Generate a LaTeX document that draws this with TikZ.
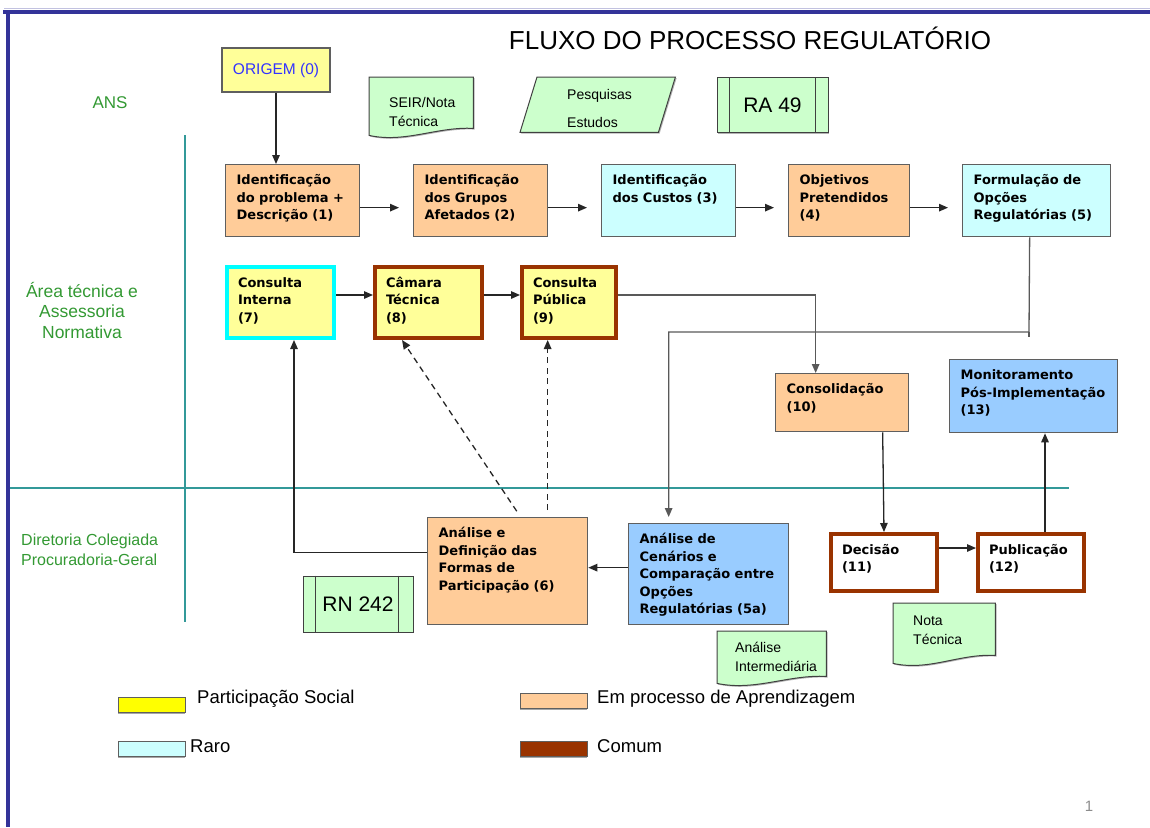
\documentclass[tikz,border=0pt]{standalone}
\usepackage{fontspec}
\setmainfont{Liberation Sans}
\newfontfamily\boxfont{DejaVu Sans}
\usepackage{tikz}
\usetikzlibrary{arrows.meta, backgrounds, shadows}
\definecolor{rgOrange}{RGB}{255,204,153}
\definecolor{rgCyan}{RGB}{204,255,255}
\definecolor{rgSky}{RGB}{153,204,255}
\definecolor{rgPale}{RGB}{255,255,153}
\definecolor{rgYellow}{RGB}{255,255,0}
\definecolor{rgMint}{RGB}{204,255,204}
\definecolor{rgBrown}{RGB}{153,51,0}
\definecolor{rgAqua}{RGB}{0,255,255}
\definecolor{rgTeal}{RGB}{51,153,153}
\definecolor{rgLabel}{RGB}{51,153,51}
\definecolor{rgFrame}{RGB}{51,51,153}
\definecolor{rgEdge}{RGB}{95,95,95}
\definecolor{rgInk}{RGB}{51,51,255}

\begin{document}
\begin{tikzpicture}[
    x=1pt, y=-1pt, >=Latex,
    stage/.style 2 args={draw=rgEdge, line width=1.3pt, anchor=north west,
                inner xsep=11pt, inner ysep=0pt, align=left,
                text width={#1pt-22pt}, text height=20pt, text depth={#2pt-20pt},
                font=\boxfont\bfseries\fontsize{13}{17.5}\selectfont},
    learn/.style={fill=rgOrange},
    rare/.style={fill=rgCyan},
    sky/.style={fill=rgSky},
    social/.style={fill=rgPale},
    ringaqua/.style={draw=rgAqua, line width=4pt},
    ringbrown/.style={draw=rgBrown, line width=4pt},
    doc/.style n args={4}{anchor=north west, inner xsep=#3pt, inner ysep=0pt,
                align=left, text width={#1pt-2*#3pt}, text height=#4pt,
                text depth={#2pt-#4pt}, font=\fontsize{14}{19}\selectfont},
    docline/.style={draw=black!75, fill=rgMint, line width=1pt,
                drop shadow={shadow xshift=1.2pt, shadow yshift=-1.2pt, opacity=.6}},
    procnode/.style={draw=black!75, fill=rgMint, line width=1pt, inner sep=0pt,
                font=\fontsize{21}{24}\selectfont,
                drop shadow={shadow xshift=1.2pt, shadow yshift=-1.2pt, opacity=.6}},
    procline/.style={draw=black!75, line width=1pt},
    origbox/.style={draw=rgEdge, fill=rgPale, line width=1.3pt, text=rgInk,
                minimum width=108pt, minimum height=44pt,
                font=\fontsize{15.5}{18}\selectfont},
    arr/.style={-{Triangle[length=9pt,width=7.5pt]}, line width=1.3pt, draw=black!85},
    faintarr/.style={arr, draw=black!65},
    dasharr/.style={arr, dash pattern=on 6pt off 4.5pt},
    lane/.style={draw=rgTeal, line width=2.4pt},
    rimline/.style={draw=rgFrame, line width=4.5pt},
    lanelabel/.style={text=rgLabel, align=center, inner sep=0pt},
    legbox/.style={draw=rgEdge, line width=1pt, inner sep=0pt,
                minimum width=67pt, minimum height=15pt,
                drop shadow={shadow xshift=0pt, shadow yshift=-1.5pt, opacity=.7}},
    legtext/.style={anchor=west, inner sep=0pt, font=\fontsize{18.5}{22}\selectfont}
]
\useasboundingbox (0,0) rectangle (1150,827);

% Slide frame and lane dividers
\draw[draw=rgFrame!30, line width=1pt] (4,8) -- (1150,8);
\draw[rimline] (3,12) -- (1150,12);
\draw[rimline] (8,12) -- (8,827);
\draw[lane] (10,488) -- (1069,488);
\draw[lane] (185,135) -- (185,622);

% Title and lane labels
\node[font=\fontsize{26}{30}\selectfont] (title) at (750,38) {FLUXO DO PROCESSO REGULATÓRIO};
\node[lanelabel, font=\fontsize{17}{20}\selectfont] (lbans) at (110,103) {ANS};
\node[lanelabel, font=\fontsize{17.5}{20.5}\selectfont] (lbarea) at (82,310)
    {Área técnica e\\Assessoria\\Normativa};
\node[lanelabel, align=left, anchor=west, font=\fontsize{16}{20}\selectfont] (lbdir) at (21,550)
    {Diretoria Colegiada\\Procuradoria-Geral};

% Origin and supporting documents
\node[origbox] (orig) at (276,70) {ORIGEM (0)};
\node[doc={104}{51}{20}{30}] (seir) at (369,77) {SEIR/Nota\\Técnica};
\node[doc={155}{55}{47}{22}, font=\fontsize{14}{28}\selectfont] (pesq) at (520,77)
    {Pesquisas\\Estudos};
\node[procnode, minimum width=111pt, minimum height=55pt] (ra49) at (772.5,105) {RA 49};
\node[procnode, minimum width=110pt, minimum height=56pt] (rn242) at (358,604) {RN 242};
\node[doc={109}{45}{18}{21}] (inter) at (717,631) {Análise\\Intermediária};
\node[doc={102}{52}{20}{22}] (nota) at (893,603) {Nota\\Técnica};

\draw[procline] ([xshift=13pt]ra49.north west) -- ([xshift=13pt]ra49.south west);
\draw[procline] ([xshift=-13pt]ra49.north east) -- ([xshift=-13pt]ra49.south east);
\draw[procline] ([xshift=13pt]rn242.north west) -- ([xshift=13pt]rn242.south west);
\draw[procline] ([xshift=-15pt]rn242.north east) -- ([xshift=-15pt]rn242.south east);

\begin{scope}[on background layer]
\draw[docline] (seir.north west) -- (seir.north east) -- (seir.south east)
    .. controls +(-36,-2) and +(36,8) .. ([yshift=-7pt]seir.south west) -- cycle;
\draw[docline] (inter.north west) -- (inter.north east) -- (inter.south east)
    .. controls +(-38,-2) and +(38,8) .. ([yshift=-7pt]inter.south west) -- cycle;
\draw[docline] (nota.north west) -- (nota.north east) -- (nota.south east)
    .. controls +(-36,-2) and +(36,8) .. ([yshift=-8pt]nota.south west) -- cycle;
\draw[docline] ([xshift=17pt]pesq.north west) -- (pesq.north east)
    -- ([xshift=-17pt]pesq.south east) -- (pesq.south west) -- cycle;
\end{scope}

% First row: problem to regulatory options
\node[stage={134}{72}, learn] (n1) at (225,164) {Identificação\\do problema +\\Descrição (1)};
\node[stage={134}{72}, learn] (n2) at (413,164) {Identificação\\dos Grupos\\Afetados (2)};
\node[stage={134}{72}, rare] (n3) at (601,164) {Identificação\\dos Custos (3)};
\node[stage={121}{72}, learn] (n4) at (788,164) {Objetivos\\Pretendidos\\(4)};
\node[stage={148}{72}, rare] (n5) at (962,164) {Formulação de\\Opções\\Regulatórias (5)};

% Second row: consultations, consolidation, monitoring
\node[stage={107}{71}, social, ringaqua] (n7) at (225,265) {Consulta\\Interna\\(7)};
\node[stage={107}{71}, social, ringbrown] (n8) at (373,265) {Câmara\\Técnica\\(8)};
\node[stage={94}{71}, social, ringbrown] (n9) at (520,265) {Consulta\\Pública\\(9)};
\node[stage={133}{58}, learn] (n10) at (775,373) {Consolidação\\(10)};
\node[stage={168}{73}, sky] (n13) at (949,359) {Monitoramento\\\mbox{Pós-Implementação}\\(13)};

% Board lane: analysis, decision, publication
\node[stage={160}{107}, learn] (n6) at (427,517)
    {Análise e\\Definição das\\Formas de\\Participação (6)};
\node[stage={160}{101}, sky] (n5a) at (628,523)
    {Análise de\\Cenários e\\\mbox{Comparação entre}\\Opções\\Regulatórias (5a)};
\node[stage={106}{57}, fill=white, ringbrown] (n11) at (829,532) {Decisão\\(11)};
\node[stage={106}{57}, fill=white, ringbrown] (n12) at (976,532) {Publicação\\(12)};

% Connectors
\draw[arr] (orig.south) -- (orig.south |- n1.north);
\draw[arr, shorten >=14pt] ([yshift=-7pt]n1.east) -- ([yshift=-7pt]n2.west);
\draw[arr, shorten >=14pt] ([yshift=-7pt]n2.east) -- ([yshift=-7pt]n3.west);
\draw[arr, shorten >=14pt] ([yshift=-7pt]n3.east) -- ([yshift=-7pt]n4.west);
\draw[arr, shorten >=14pt] ([yshift=-7pt]n4.east) -- ([yshift=-7pt]n5.west);

\draw[arr] ([yshift=7.5pt]n7.east) -- ([yshift=7.5pt]n8.west);
\draw[arr] ([yshift=7.5pt]n8.east) -- ([yshift=7.5pt]n9.west);
\draw[faintarr] ([yshift=7.5pt]n9.east) -| ([xshift=-26.5pt]n10.north);

\coordinate (bend5) at (1029,332);
\draw[faintarr, shorten >=6pt] ([xshift=-7pt]n5.south) -- (bend5) -| ([xshift=-40pt]n5a.north);
\draw[draw=black!65, line width=1.3pt] (bend5) -- ++(0,5);

\draw[arr] ([yshift=6.5pt]n5a.west) -- ([yshift=3.5pt]n6.east);
\draw[arr] ([yshift=18.5pt]n6.west) -| ([xshift=13.5pt]n7.south);
\draw[dasharr, shorten <=7pt] ([xshift=13pt]n6.north) -- ([xshift=-26.5pt]n8.south);
\draw[dasharr, shorten <=7pt] ([xshift=40pt]n6.north) -- ([xshift=40pt]n6.north |- n9.south);

\draw[arr] ([xshift=40.5pt]n10.south) -- (n11.north);
\draw[arr] ([yshift=14.5pt]n11.east) -- ([yshift=14.5pt]n12.west);
\draw[arr] ([xshift=14pt]n12.north) -- ([xshift=14pt]n12.north |- n13.south);

% Legend
\node[legbox, fill=rgYellow] (legsocial) at (151.5,705) {};
\node[legbox, fill=rgCyan] (legrare) at (151.5,749) {};
\node[legbox, fill=rgOrange] (leglearn) at (553.5,701) {};
\node[legbox, fill=rgBrown] (legcommon) at (553.5,748.5) {};
\node[legtext] (txsocial) at (197,699) {Participação Social};
\node[legtext] (txrare) at (190,746) {Raro};
\node[legtext] (txlearn) at (597,699) {Em processo de Aprendizagem};
\node[legtext] (txcommon) at (597,746) {Comum};

\node[text=black!45, font=\fontsize{15}{18}\selectfont] (pagenum) at (1089,806) {1};

\end{tikzpicture}
\end{document}
